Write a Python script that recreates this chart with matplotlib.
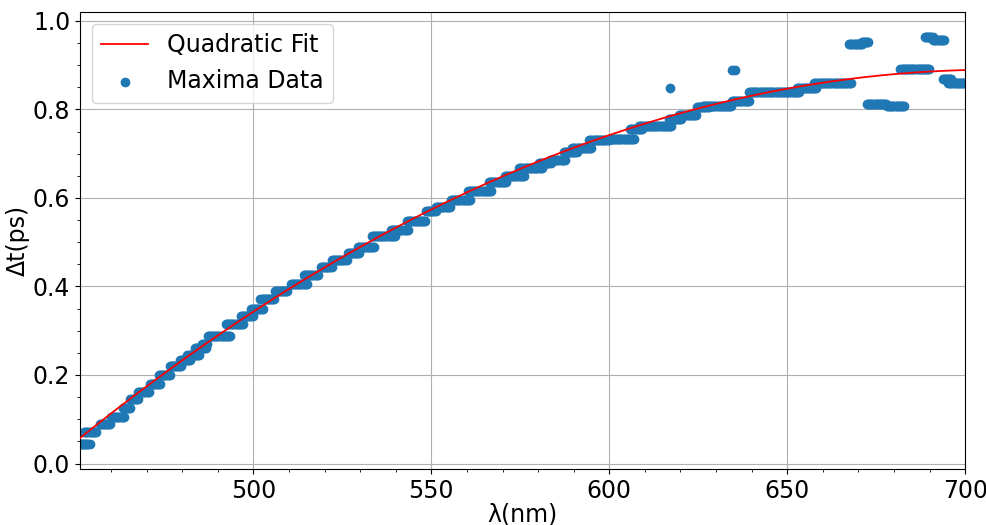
import numpy as np
import matplotlib
matplotlib.use("Agg")
import matplotlib.pyplot as plt
from matplotlib.ticker import MultipleLocator

# Plateaus of the measured maxima: start wavelength, end wavelength, delay (ps)
plateau_start = [451.3, 452.5, 456.8, 460.0, 463.4, 465.5, 467.6, 471.0, 473.5, 476.5,
                 479.3, 481.5, 483.5, 485.5, 487.2, 492.3, 496.5, 499.3, 502.0, 506.0,
                 510.5, 514.2, 519.0, 522.0, 526.5, 529.5, 533.2, 538.6, 543.2, 548.5,
                 551.3, 555.5, 560.2, 566.2, 570.6, 574.7, 580.2, 583.3, 587.2, 589.6,
                 594.4, 599.8, 605.7, 608.4, 616.8, 619.6, 624.6, 626.2, 634.4, 639.2,
                 652.8, 657.6, 667.4, 671.0, 672.4, 678.0, 681.8, 688.7, 691.0, 693.6,
                 695.2]
plateau_end = [454.2, 455.8, 460.0, 463.8, 465.6, 467.8, 470.8, 473.8, 476.6, 480.0,
               482.3, 484.8, 487.0, 487.2, 493.6, 497.2, 500.0, 502.8, 506.0, 509.8,
               515.0, 518.2, 522.0, 526.3, 530.0, 534.0, 540.0, 543.5, 548.3, 551.2,
               555.4, 561.0, 567.0, 571.0, 576.0, 581.0, 583.6, 587.5, 591.0, 595.0,
               599.8, 607.0, 609.4, 617.4, 620.2, 624.5, 628.0, 634.4, 639.2, 653.3,
               658.4, 668.0, 671.0, 673.0, 678.0, 682.8, 690.0, 691.0, 694.0, 696.2,
               700.0]
plateau_dt = [0.045, 0.072, 0.090, 0.106, 0.125, 0.145, 0.162, 0.180, 0.200, 0.220,
              0.235, 0.245, 0.262, 0.270, 0.288, 0.315, 0.334, 0.350, 0.372, 0.390,
              0.405, 0.425, 0.445, 0.460, 0.475, 0.490, 0.515, 0.528, 0.548, 0.570,
              0.580, 0.595, 0.615, 0.635, 0.650, 0.668, 0.678, 0.685, 0.703, 0.712,
              0.730, 0.734, 0.755, 0.763, 0.778, 0.788, 0.805, 0.808, 0.818, 0.840,
              0.848, 0.860, 0.948, 0.953, 0.813, 0.808, 0.892, 0.963, 0.958, 0.869,
              0.860]
step_nm = 0.3

# Isolated points
single_x = [617.0, 634.6, 635.3]
single_y = [0.848, 0.888, 0.888]

# Quadratic fit: dt = c0 + c1*u + c2*u^2, u = (lambda - 600)/100
fit_c0, fit_c1, fit_c2 = 0.742, 0.273, -0.126

x_ticks = [500, 550, 600, 650, 700]
y_ticks = [0.0, 0.2, 0.4, 0.6, 0.8, 1.0]

xs, ys = [], []
for a, b, v in zip(plateau_start, plateau_end, plateau_dt):
    pts = np.arange(a, b + 1e-9, step_nm)
    xs.extend(pts)
    ys.extend([v] * len(pts))
xs.extend(single_x)
ys.extend(single_y)
xs = np.array(xs)
ys = np.array(ys)

fig = plt.figure(figsize=(9.87, 5.25), dpi=100)
ax = fig.add_axes([0.081, 0.107, 0.897, 0.870])

xf = np.linspace(451.3, 700, 400)
uf = (xf - 600) / 100
yf = fit_c0 + fit_c1 * uf + fit_c2 * uf ** 2
ax.plot(xf, yf, color="red", lw=1.3, label="Quadratic Fit", zorder=3)
ax.scatter(xs, ys, s=36, color="#1f77b4", label="Maxima Data", zorder=2)

ax.set_xlim(451.3, 700)
ax.set_ylim(-0.012, 1.02)
ax.set_xticks(x_ticks)
ax.set_yticks(y_ticks)
ax.xaxis.set_minor_locator(MultipleLocator(10))
ax.yaxis.set_minor_locator(MultipleLocator(0.05))
ax.grid(True, which="major", color="#b0b0b0", lw=0.8)
ax.set_axisbelow(True)
ax.tick_params(labelsize=17)
ax.set_xlabel("λ(nm)", fontsize=17, labelpad=0)
ax.set_ylabel("Δt(ps)", fontsize=17, labelpad=2)
ax.legend(loc="upper left", fontsize=17, scatterpoints=1)

fig.savefig("out.png", dpi=100)
